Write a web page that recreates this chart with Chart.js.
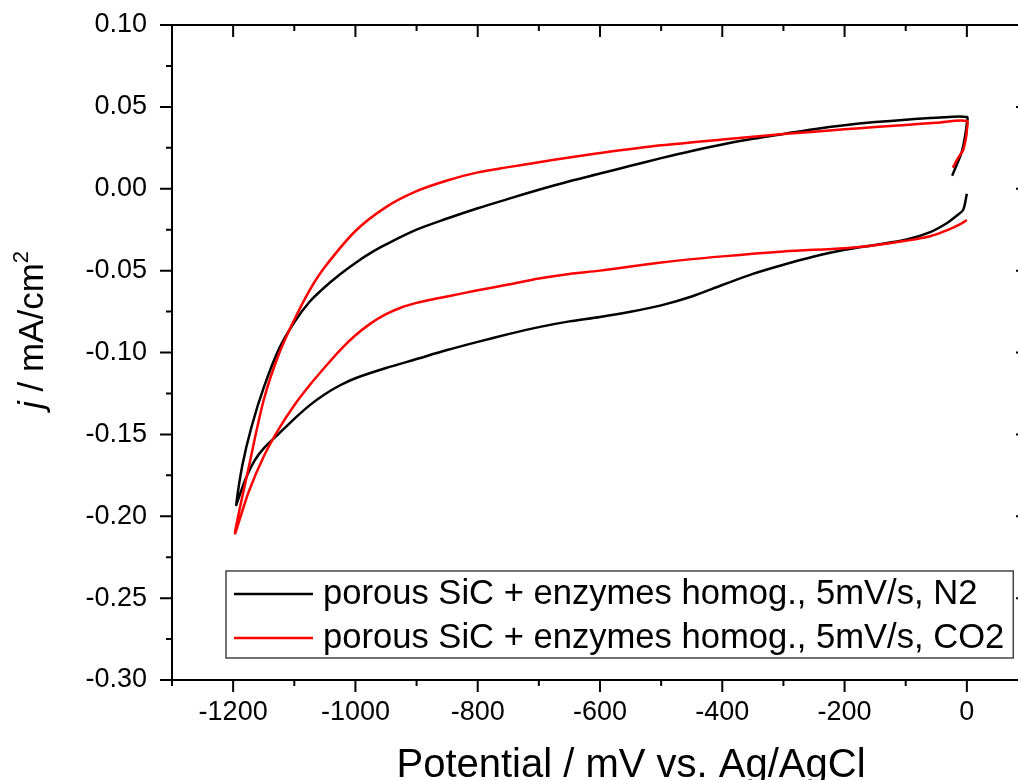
<!DOCTYPE html>
<html>
<head>
<meta charset="utf-8">
<script src="https://cdn.jsdelivr.net/npm/chart.js@4/dist/chart.umd.min.js"></script>
<style>
  html, body { margin: 0; padding: 0; background: #fff; overflow: hidden; }
  canvas { display: block; }
</style>
</head>
<body>
<canvas id="myChart" width="1040" height="780"></canvas>
<script>
// Data: potential in mV, current density in mA/cm2
// path: short start tail -> upper branch (0 to -1200) -> lower branch (-1200 to 0)
const n2Potential = [-24, -15, -8, -3, 0, 0,
  -50, -100, -150, -200, -250, -300, -350, -400, -450, -500, -550, -600, -650, -700, -750, -800, -850, -900, -950, -975, -1000, -1025, -1050, -1075, -1100, -1125, -1150, -1170, -1185, -1195,
  -1192, -1180, -1165, -1150, -1125, -1100, -1075, -1050, -1025, -1000, -950, -900, -850, -800, -750, -700, -650, -600, -550, -500, -450, -400, -350, -300, -250, -200, -150, -100, -60, -33, -15, -6, 0];
const n2Current = [0.008, 0.016, 0.023, 0.032, 0.040, 0.0438,
  0.0433, 0.0422, 0.0407, 0.0388, 0.0364, 0.0335, 0.0305, 0.0270, 0.0231, 0.0187, 0.0140, 0.0093, 0.0046, -0.0006, -0.0062, -0.0119, -0.0182, -0.0250, -0.0340, -0.0392, -0.0453, -0.0522, -0.0600, -0.069, -0.0815, -0.0978, -0.1215, -0.1455, -0.169, -0.193,
  -0.190, -0.1775, -0.166, -0.1585, -0.1495, -0.1405, -0.1323, -0.1255, -0.1200, -0.1157, -0.1095, -0.1040, -0.0985, -0.0935, -0.0888, -0.0845, -0.0810, -0.0783, -0.0751, -0.0712, -0.0658, -0.0588, -0.0520, -0.0464, -0.0414, -0.0373, -0.0343, -0.0312, -0.0265, -0.0211, -0.0160, -0.0129, -0.003];

const co2Potential = [-23, -14, -6, -1, 0, 0,
  -50, -100, -150, -200, -300, -400, -500, -600, -650, -700, -750, -800, -850, -900, -950, -1000, -1050, -1075, -1100, -1125, -1150, -1175, -1197,
  -1175, -1150, -1125, -1100, -1075, -1050, -1025, -1000, -975, -950, -925, -900, -875, -850, -800, -750, -700, -650, -600, -500, -400, -300, -200, -150, -100, -60, -30, -10, 0];
const co2Current = [0.0129, 0.019, 0.0237, 0.032, 0.0359, 0.0414,
  0.0403, 0.0390, 0.0377, 0.0363, 0.0334, 0.0301, 0.0265, 0.0218, 0.0191, 0.0162, 0.0132, 0.0100, 0.0050, -0.0015, -0.0112, -0.0258, -0.0478, -0.062, -0.080, -0.1008, -0.129, -0.171, -0.2104,
  -0.1855, -0.1635, -0.1465, -0.1322, -0.1200, -0.1090, -0.0985, -0.0895, -0.0822, -0.0766, -0.0725, -0.0697, -0.0676, -0.0658, -0.0620, -0.0585, -0.0548, -0.0520, -0.0500, -0.0450, -0.0413, -0.0383, -0.0363, -0.0345, -0.0318, -0.0290, -0.0250, -0.0215, -0.0191];

const seriesLabels = ["porous SiC + enzymes homog., 5mV/s, N2", "porous SiC + enzymes homog., 5mV/s, CO2"];
const seriesColors = ["#000000", "#ff0000"];

// labelled ticks (minor ticks sit halfway between)
const xLabeled = [-1200, -1000, -800, -600, -400, -200, 0];
const yLabeled = [0.10, 0.05, 0.00, -0.05, -0.10, -0.15, -0.20, -0.25, -0.30];

const FONT = '"Liberation Sans", Arial, sans-serif';

const toPoints = (xs, ys) => xs.map((x, i) => ({ x: x, y: ys[i] }));

// frame + tick marks (outward on bottom/left, inward on top/right)
const frameTicks = {
  id: 'frameTicks',
  afterDatasetsDraw(chart) {
    const { ctx, chartArea: a, scales } = chart;
    ctx.save();
    ctx.strokeStyle = '#000';
    ctx.lineWidth = 2;
    ctx.strokeRect(a.left, a.top, a.right - a.left, a.bottom - a.top);
    ctx.beginPath();
    scales.x.ticks.forEach(t => {
      const px = scales.x.getPixelForValue(t.value);
      const len = t.label !== '' ? 12 : 6;
      ctx.moveTo(px, a.bottom); ctx.lineTo(px, a.bottom + len);
      ctx.moveTo(px, a.top); ctx.lineTo(px, a.top + len);
    });
    scales.y.ticks.forEach(t => {
      const py = scales.y.getPixelForValue(t.value);
      const len = t.label !== '' ? 12 : 6;
      ctx.moveTo(a.left, py); ctx.lineTo(a.left - len, py);
      ctx.moveTo(a.right, py); ctx.lineTo(a.right - len, py);
    });
    ctx.stroke();
    ctx.restore();
  }
};

// axis titles (italic j and superscript 2)
const axisTitles = {
  id: 'axisTitles',
  afterDraw(chart) {
    const { ctx, chartArea: a } = chart;
    ctx.save();
    ctx.fillStyle = '#000';
    ctx.textBaseline = 'alphabetic';
    ctx.textAlign = 'center';
    ctx.font = '40px ' + FONT;
    ctx.fillText('Potential / mV vs. Ag/AgCl', a.left + 459, 777);

    // y title, rotated
    ctx.translate(43, 330);
    ctx.rotate(-Math.PI / 2);
    ctx.textAlign = 'left';
    const parts = [
      { t: 'j', f: 'italic 35px ' + FONT, dy: 0 },
      { t: ' / mA/cm', f: '35px ' + FONT, dy: 0 },
      { t: '2', f: '22px ' + FONT, dy: -15 }
    ];
    let total = 0;
    parts.forEach(p => { ctx.font = p.f; p.w = ctx.measureText(p.t).width; total += p.w; });
    let x = -total / 2;
    parts.forEach(p => { ctx.font = p.f; ctx.fillText(p.t, x, p.dy); x += p.w; });
    ctx.restore();
  }
};

// boxed legend inside the plot, lower right
const boxLegend = {
  id: 'boxLegend',
  afterDraw(chart) {
    const { ctx, chartArea: a } = chart;
    const left = a.left + 54, top = a.bottom - 109, h = 87;
    ctx.save();
    ctx.font = '34.6px ' + FONT;
    const textW = Math.max(...chart.data.datasets.map(d => ctx.measureText(d.label).width));
    const w = 97 + textW + 9;
    ctx.fillStyle = '#fff';
    ctx.fillRect(left, top, w, h);
    ctx.strokeStyle = '#444';
    ctx.lineWidth = 1.5;
    ctx.strokeRect(left, top, w, h);
    chart.data.datasets.forEach((d, i) => {
      const cy = top + 23 + i * 44;
      ctx.strokeStyle = d.borderColor;
      ctx.lineWidth = 2.5;
      ctx.beginPath();
      ctx.moveTo(left + 8, cy); ctx.lineTo(left + 87, cy);
      ctx.stroke();
      ctx.fillStyle = '#000';
      ctx.textBaseline = 'middle';
      ctx.textAlign = 'left';
      ctx.fillText(d.label, left + 97, cy);
    });
    ctx.restore();
  }
};

const data = {
  datasets: [
    {
      label: seriesLabels[0],
      data: toPoints(n2Potential, n2Current),
      borderColor: seriesColors[0],
      order: 1
    },
    {
      label: seriesLabels[1],
      data: toPoints(co2Potential, co2Current),
      borderColor: seriesColors[1],
      order: 0
    }
  ]
};

const config = {
  type: 'scatter',
  data: data,
  options: {
    responsive: false,
    animation: false,
    layout: { padding: { left: 0, top: 25, right: 12, bottom: 0 } },
    elements: {
      point: { radius: 0 },
      line: { borderWidth: 2.5, tension: 0.3, fill: false }
    },
    datasets: { scatter: { showLine: true } },
    plugins: {
      legend: { display: false },
      tooltip: { enabled: false },
      title: { display: false }
    },
    scales: {
      x: {
        type: 'linear',
        min: -1300,
        max: 100,
        grid: { display: false, drawTicks: false },
        border: { display: false },
        ticks: {
          stepSize: 100,
          autoSkip: false,
          maxRotation: 0,
          padding: 16,
          color: '#000',
          font: { family: FONT, size: 27 },
          callback: v => xLabeled.includes(Math.round(v)) ? String(Math.round(v)) : ''
        },
        afterFit: s => { s.height = 100; s.paddingLeft = 0; s.paddingRight = 0; }
      },
      y: {
        type: 'linear',
        min: -0.30,
        max: 0.10,
        grid: { display: false, drawTicks: false },
        border: { display: false },
        ticks: {
          stepSize: 0.025,
          autoSkip: false,
          padding: 25,
          color: '#000',
          font: { family: FONT, size: 27 },
          callback: v => {
            const hit = yLabeled.find(l => Math.abs(l - v) < 1e-6);
            return hit === undefined ? '' : (Math.abs(hit) < 1e-9 ? '0.00' : hit.toFixed(2));
          }
        },
        afterFit: s => { s.width = 172; s.paddingTop = 0; s.paddingBottom = 0; }
      }
    }
  },
  plugins: [frameTicks, axisTitles, boxLegend]
};

let myChart = document.getElementById('myChart').getContext('2d');
let cvChart = new Chart(myChart, config);
</script>
</body>
</html>
